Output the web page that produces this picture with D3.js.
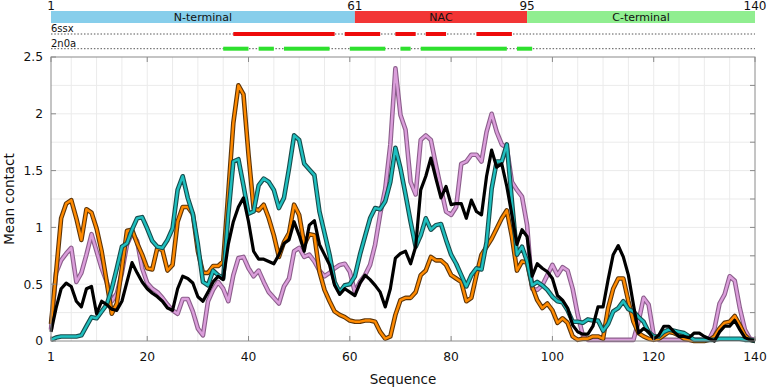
<!DOCTYPE html>
<html><head><meta charset="utf-8">
<script src="https://cdn.jsdelivr.net/npm/d3@7"></script>
<style>body{margin:0;background:#fff}svg{display:block;font-family:"DejaVu Sans",sans-serif}</style>
</head><body><svg id="c" width="768" height="388"></svg>
<script>
const residues = d3.range(1, 141);
const orange = [0.15,0.6,1.08,1.21,1.24,1.08,0.89,1.16,1.13,0.99,0.79,0.52,0.24,0.33,0.64,0.97,0.98,0.86,0.76,0.64,
0.63,0.82,0.80,0.62,0.67,1.05,1.18,1.18,1.12,0.79,0.60,0.60,0.66,0.66,0.70,1.3,1.92,2.25,2.17,1.64,
1.17,1.15,1.2,1.08,0.93,0.74,0.87,0.95,1.2,1.11,0.85,0.94,0.93,0.61,0.45,0.35,0.26,0.23,0.21,0.18,
0.17,0.17,0.18,0.18,0.17,0.08,0.02,0.04,0.23,0.36,0.38,0.38,0.43,0.58,0.62,0.74,0.71,0.71,0.67,0.58,
0.55,0.52,0.35,0.38,0.58,0.76,0.83,0.9,0.99,1.08,1.15,0.92,0.62,0.7,0.69,0.48,0.36,0.29,0.33,0.27,
0.16,0.2,0.16,0.04,0.01,0.02,0.02,0.04,0.04,0.02,0.29,0.46,0.55,0.55,0.35,0.17,0.07,0.04,0.02,0.01,
0.02,0.05,0.08,0.07,0.05,0.02,0.01,0,0,0,0.01,0.04,0.11,0.16,0.17,0.22,0.14,0.05,0.01,0];
const cyan = [0.01,0.03,0.04,0.04,0.04,0.04,0.05,0.13,0.21,0.2,0.26,0.32,0.46,0.64,0.83,0.86,0.98,1.08,1.09,0.99,
0.88,0.83,0.82,0.89,0.99,1.33,1.45,1.26,1.12,0.85,0.52,0.49,0.62,0.58,0.55,1.11,1.58,1.6,1.37,1.12,
1.14,1.37,1.43,1.4,1.33,1.17,1.26,1.52,1.81,1.77,1.56,1.51,1.46,1.14,0.95,0.76,0.52,0.43,0.49,0.5,
0.57,0.76,0.92,1.08,1.17,1.16,1.23,1.4,1.7,1.52,1.29,1.05,0.83,0.93,1.08,0.98,1.02,1.03,0.89,0.76,
0.68,0.58,0.48,0.58,0.64,0.63,0.87,1.34,1.58,1.58,1.73,1.23,0.76,0.83,0.7,0.49,0.52,0.49,0.45,0.39,
0.35,0.34,0.27,0.17,0.17,0.16,0.19,0.18,0.18,0.09,0.15,0.26,0.29,0.35,0.28,0.26,0.21,0.17,0.08,0.04,
0.04,0.08,0.1,0.09,0.08,0.07,0.04,0.01,0.01,0.01,0.01,0.01,0.02,0.02,0.02,0.02,0.02,0.01,0.01,0];
const black = [0.08,0.29,0.46,0.51,0.48,0.35,0.3,0.46,0.48,0.24,0.35,0.32,0.28,0.27,0.35,0.52,0.69,0.6,0.52,0.46,
0.42,0.39,0.35,0.29,0.27,0.46,0.57,0.55,0.51,0.39,0.35,0.43,0.52,0.57,0.54,0.85,1.05,1.18,1.26,1.05,
0.79,0.72,0.72,0.7,0.68,0.76,0.86,0.89,1.05,0.93,0.79,1.02,1.06,0.85,0.76,0.67,0.49,0.41,0.46,0.43,
0.4,0.51,0.58,0.54,0.49,0.43,0.3,0.46,0.73,0.77,0.79,0.68,0.83,1.33,1.45,1.61,1.43,1.26,1.36,1.2,
1.21,1.21,1.08,1.24,1.14,1.11,1.45,1.68,1.53,1.56,1.36,1.11,0.85,0.98,0.92,0.57,0.68,0.64,0.61,0.55,
0.4,0.36,0.29,0.14,0.08,0.06,0.06,0.13,0.3,0.3,0.54,0.76,0.84,0.74,0.58,0.32,0.07,0.11,0.08,0.02,
0.05,0.13,0.13,0.08,0.04,0.04,0.03,0.07,0.07,0.04,0.02,0,0.08,0.13,0.13,0.18,0.1,0.03,0.01,0];
const pink = [0.1,0.6,0.71,0.77,0.82,0.52,0.6,0.76,0.94,0.79,0.64,0.52,0.35,0.42,0.6,0.85,0.95,0.88,0.64,0.51,
0.46,0.43,0.38,0.32,0.27,0.24,0.37,0.37,0.26,0.11,0.05,0.35,0.45,0.52,0.46,0.35,0.58,0.73,0.74,0.64,
0.57,0.62,0.52,0.43,0.38,0.33,0.48,0.55,0.79,0.82,0.74,0.76,0.7,0.62,0.57,0.6,0.64,0.67,0.68,0.61,
0.43,0.52,0.58,0.67,0.85,1.12,1.34,1.73,2.4,1.99,1.86,1.4,1.29,1.77,1.81,1.77,1.55,1.34,1.14,1.11,
1.18,1.56,1.58,1.64,1.64,1.58,1.84,2.0,1.84,1.73,1.7,1.4,1.33,1.27,1.02,0.46,0.45,0.49,0.58,0.67,
0.58,0.65,0.62,0.46,0.23,0.05,0.01,0.01,0.01,0.01,0.01,0.01,0.01,0.01,0.01,0.01,0.17,0.38,0.32,0.05,
0.01,0.01,0.01,0.01,0.01,0.01,0.01,0.01,0.01,0.01,0.02,0.11,0.33,0.41,0.57,0.53,0.29,0.1,0.02,0.01];

const xTicks = [1,20,40,60,80,100,120,140];
const yTicks = [0,0.5,1,1.5,2,2.5];
const domains = [{name:"N-terminal",start:1,end:61,color:"#87CEEB"},{name:"NAC",start:61,end:95,color:"#F23535"},{name:"C-terminal",start:95,end:140,color:"#90EE90"}];
const boundaryLabels = [1,61,95,140];
const ssx6 = [[37,57],[59,66],[69,73],[75,79],[85,92]];
const n0a2 = [[35,40],[42,45],[47,56],[60,67],[70,72],[74,91],[93,96]];

const svg = d3.select("#c");
const L=51,R=755,T=57,B=341;
const x = d3.scaleLinear().domain([1,140]).range([L,R]);
const y = d3.scaleLinear().domain([0,2.5]).range([B,T]);

// grid
const g = svg.append("g");
g.selectAll(".gx").data(d3.range(5,140,5)).join("line")
 .attr("x1",d=>x(d)).attr("x2",d=>x(d)).attr("y1",T).attr("y2",B).attr("stroke","#ebebeb").attr("stroke-width",1);
g.selectAll(".gy").data(d3.range(0.25,2.5,0.25)).join("line")
 .attr("x1",L).attr("x2",R).attr("y1",d=>y(d)).attr("y2",d=>y(d)).attr("stroke","#ebebeb").attr("stroke-width",1);

// lines
const line = d3.line().x((d,i)=>x(residues[i])).y(d=>y(d));
function outlined(data, fill, edge){
  svg.append("path").datum(data).attr("d",line).attr("fill","none").attr("stroke",edge).attr("stroke-width",4.6).attr("stroke-linejoin","round");
  svg.append("path").datum(data).attr("d",line).attr("fill","none").attr("stroke",fill).attr("stroke-width",2.4).attr("stroke-linejoin","round");
}
outlined(pink,"#DB9EDB","#8C5E8C");
outlined(orange,"#FF8A00","#5E3508");
outlined(cyan,"#1FBFBF","#174C4C");
svg.append("path").datum(black).attr("d",line).attr("fill","none").attr("stroke","#000").attr("stroke-width",3.2).attr("stroke-linejoin","round");

// frame
svg.append("rect").attr("x",L).attr("y",T).attr("width",R-L).attr("height",B-T).attr("fill","none").attr("stroke","#8a8a8a").attr("stroke-width",1);
// ticks
const tk = svg.append("g").attr("stroke","#8a8a8a").attr("stroke-width",1);
xTicks.forEach(t=>{tk.append("line").attr("x1",x(t)).attr("x2",x(t)).attr("y1",B).attr("y2",B-5);
 tk.append("line").attr("x1",x(t)).attr("x2",x(t)).attr("y1",T).attr("y2",T+5);});
d3.range(0.25,2.5,0.25).forEach(t=>{tk.append("line").attr("x1",R).attr("x2",R-5).attr("y1",y(t)).attr("y2",y(t));});
yTicks.forEach(t=>{tk.append("line").attr("x1",L).attr("x2",L+5).attr("y1",y(t)).attr("y2",y(t));});

// tick labels
svg.selectAll(".xl").data(xTicks).join("text").attr("x",d=>x(d)).attr("y",361).attr("text-anchor","middle")
 .attr("font-size",12.3).attr("fill","#111").text(d=>d);
svg.selectAll(".yl").data(yTicks).join("text").attr("x",43).attr("y",d=>y(d)+4.3).attr("text-anchor","end")
 .attr("font-size",12.3).attr("fill","#111").text(d=>d);
svg.append("text").attr("x",403).attr("y",384).attr("text-anchor","middle").attr("font-size",13.5).attr("fill","#111").text("Sequence");
svg.append("text").attr("transform","translate(13.5,199) rotate(-90)").attr("text-anchor","middle").attr("font-size",13.5).attr("fill","#111").text("Mean contact");

// domain bar
svg.selectAll(".dom").data(domains).join("rect").attr("x",d=>x(d.start)).attr("width",d=>x(d.end)-x(d.start))
 .attr("y",11).attr("height",12).attr("fill",d=>d.color);
svg.selectAll(".domt").data(domains).join("text").attr("x",d=>(x(d.start)+x(d.end))/2).attr("y",21)
 .attr("text-anchor","middle").attr("font-size",11).attr("fill","#111").text(d=>d.name);
svg.selectAll(".bl").data(boundaryLabels).join("text").attr("x",d=>x(d)).attr("y",10).attr("text-anchor","middle")
 .attr("font-size",12).attr("fill","#111").text(d=>d);

// structure tracks
function track(label, ty, segs, color){
  svg.append("text").attr("x",L).attr("y",ty-2).attr("font-size",10).attr("fill","#111").text(label);
  svg.append("line").attr("x1",L).attr("x2",R).attr("y1",ty).attr("y2",ty).attr("stroke","#555").attr("stroke-width",1).attr("stroke-dasharray","1.5,1.8");
  svg.selectAll(null).data(segs).join("rect").attr("x",d=>x(d[0])).attr("width",d=>x(d[1])-x(d[0]))
   .attr("y",ty-2).attr("height",4).attr("fill",color);
}
track("6ssx",34,ssx6,"#EE0A0A");
track("2n0a",48.7,n0a2,"#2EE02E");
</script></body></html>
